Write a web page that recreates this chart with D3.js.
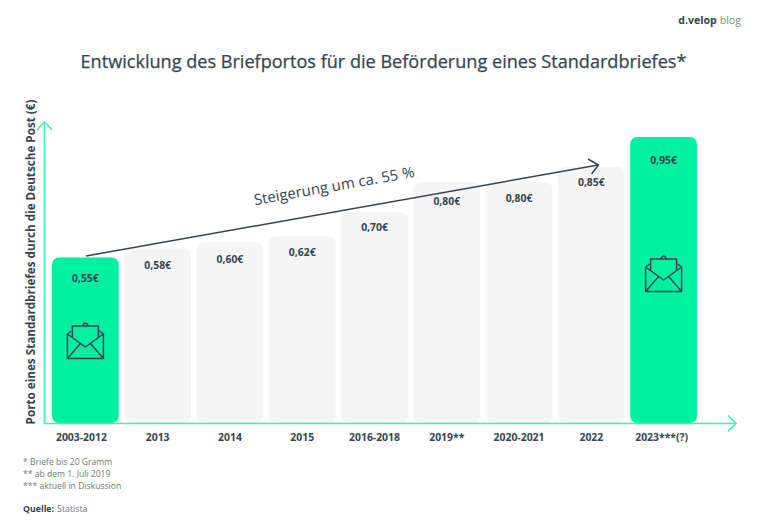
<!DOCTYPE html>
<html><head><meta charset="utf-8">
<script src="https://cdnjs.cloudflare.com/ajax/libs/d3/7.8.5/d3.min.js"></script>
<style>html,body{margin:0;padding:0;background:#fff}svg{display:block}text{font-family:"Open Sans","Noto Sans",sans-serif}</style>
</head><body><svg id="c" width="768" height="526"></svg>
<script>
const categories=["2003-2012","2013","2014","2015","2016-2018","2019**","2020-2021","2022","2023***(?)"];
const values=[0.55,0.58,0.60,0.62,0.70,0.80,0.80,0.85,0.95];
const labels=["0,55€","0,58€","0,60€","0,62€","0,70€","0,80€","0,80€","0,85€","0,95€"];
const highlighted=["2003-2012","2023***(?)"];
const footnotes=["* Briefe bis 20 Gramm","** ab dem 1. Juli 2019","*** aktuell in Diskussion"];
const dark="#36444f",green="#00f2a1",axisGreen="#3ff0b4",grey="#f5f5f5";
const labelGap=[25,21,21,20,19,23,20,19,27];
const tickShift=[-4,0,0,0,0,0,0,0,-2];
const svg=d3.select("#c");
const x=d3.scaleBand().domain(categories).range([52,697]).paddingInner(0.076);
const y=d3.scaleLinear().domain([0,0.95]).range([423,137]);

svg.append("text").attr("x",383.5).attr("y",68).attr("text-anchor","middle").attr("font-size",18.1).attr("font-weight",500).attr("fill",dark).attr("stroke",dark).attr("stroke-width",0.25).text("Entwicklung des Briefportos für die Beförderung eines Standardbriefes*");
const logo=svg.append("text").attr("x",741).attr("y",24).attr("text-anchor","end").attr("font-size",10.6).attr("fill","#7c858d");
logo.append("tspan").attr("font-weight",700).attr("fill",dark).text("d.velop");
logo.append("tspan").attr("dx",3).text("blog");

svg.append("g").selectAll("rect").data(categories).join("rect")
 .attr("x",d=>x(d)).attr("width",x.bandwidth())
 .attr("y",(d,i)=>y(values[i])).attr("height",(d,i)=>y(0)-y(values[i]))
 .attr("rx",7).attr("fill",d=>highlighted.includes(d)?green:grey);

const ax=svg.append("g").attr("fill","none").attr("stroke",axisGreen).attr("stroke-width",1.6);
ax.append("path").attr("d","M44.5,424V123");
ax.append("path").attr("d","M37,130L44.5,122L52,130");
ax.append("path").attr("d","M44,423.5H735");
ax.append("path").attr("d","M728,415.5L736,423.5L728,431.5");

svg.append("g").selectAll("text").data(categories).join("text")
 .attr("x",(d,i)=>x(d)+x.bandwidth()/2+tickShift[i]).attr("y",441).attr("text-anchor","middle")
 .attr("font-size",10.4).attr("font-weight",700).attr("fill",dark).text(d=>d);
svg.append("g").selectAll("text").data(labels).join("text")
 .attr("x",(d,i)=>x(categories[i])+x.bandwidth()/2).attr("y",(d,i)=>y(values[i])+labelGap[i])
 .attr("text-anchor","middle").attr("font-size",10.4).attr("font-weight",700).attr("fill",dark).text(d=>d);

svg.append("text").attr("transform","translate(35,262) rotate(-90)").attr("text-anchor","middle")
 .attr("font-size",11.7).attr("font-weight",700).attr("fill",dark).text("Porto eines Standardbriefes durch die Deutsche Post (€)");

const ar=svg.append("g").attr("fill","none").attr("stroke",dark).attr("stroke-width",1.5);
ar.append("path").attr("d","M86,256L598,165");
ar.append("path").attr("d","M588,159L598.5,165L591.5,174");
svg.append("text").attr("transform","translate(335,191) rotate(-10)").attr("text-anchor","middle")
 .attr("font-size",15).attr("font-weight",500).attr("fill",dark).text("Steigerung um ca. 55 %");

function env(cx,top){
 const g=svg.append("g").attr("transform",`translate(${cx},${top})`).attr("fill","none").attr("stroke",dark).attr("stroke-width",1.5).attr("stroke-linejoin","round");
 g.append("path").attr("d","M-18,12V36.5H18V12L14,9M-18,12L-14,9M-18,12L0,25L18,12M-18,36.5L-5,21.5M18,36.5L5,21.5");
 g.append("path").attr("d","M-13,15V4H13V15M-3,4Q0,-2 3,4");
}
env(x(categories[0])+x.bandwidth()/2,322);
env(x(categories[8])+x.bandwidth()/2,255);

svg.append("g").selectAll("text").data(footnotes).join("text")
 .attr("x",23).attr("y",(d,i)=>465+i*12).attr("font-size",8.6).attr("fill","#6d7780").text(d=>d);
const q=svg.append("text").attr("x",23).attr("y",512).attr("font-size",8.8).attr("fill","#6d7780");
q.append("tspan").attr("font-weight",700).attr("fill",dark).text("Quelle:");
q.append("tspan").attr("dx",3).text("Statista");
</script></body></html>
